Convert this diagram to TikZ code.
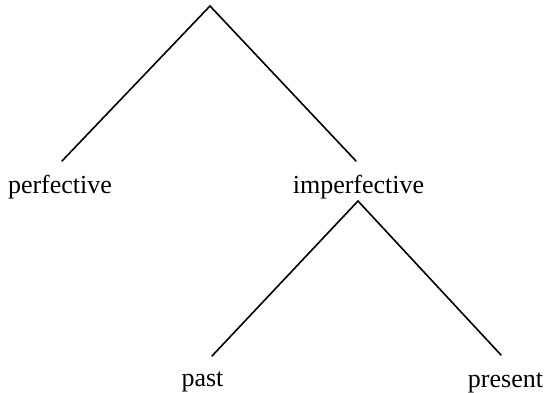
\documentclass[tikz,border=0pt]{standalone}
\usepackage{fontspec}
\setmainfont{Liberation Serif}
\begin{document}
\begin{tikzpicture}[x=1pt,y=-1pt,
  branch/.style={line width=1.6pt,line cap=round},
  lab/.style={anchor=base,inner sep=0pt,font=\fontsize{26}{30}\selectfont}]
\useasboundingbox (0,0) rectangle (545,392);
% apexes and branch ends
\coordinate (top) at (210,6);
\coordinate (perfend) at (62,161);
\coordinate (imperfend) at (356,161);
\coordinate (sub) at (358,201);
\coordinate (pastend) at (212,356);
\coordinate (presend) at (501,355);
% labels
\node[lab] (perf) at (60,193) {perfective};
\node[lab] (imperf) at (358.5,193) {imperfective};
\node[lab] (past) at (202.5,386) {past};
\node[lab] (pres) at (505.5,387) {present};
% branches
\draw[branch] (perfend) -- (top) -- (imperfend);
\draw[branch] (pastend) -- (sub) -- (presend);
\end{tikzpicture}
\end{document}
